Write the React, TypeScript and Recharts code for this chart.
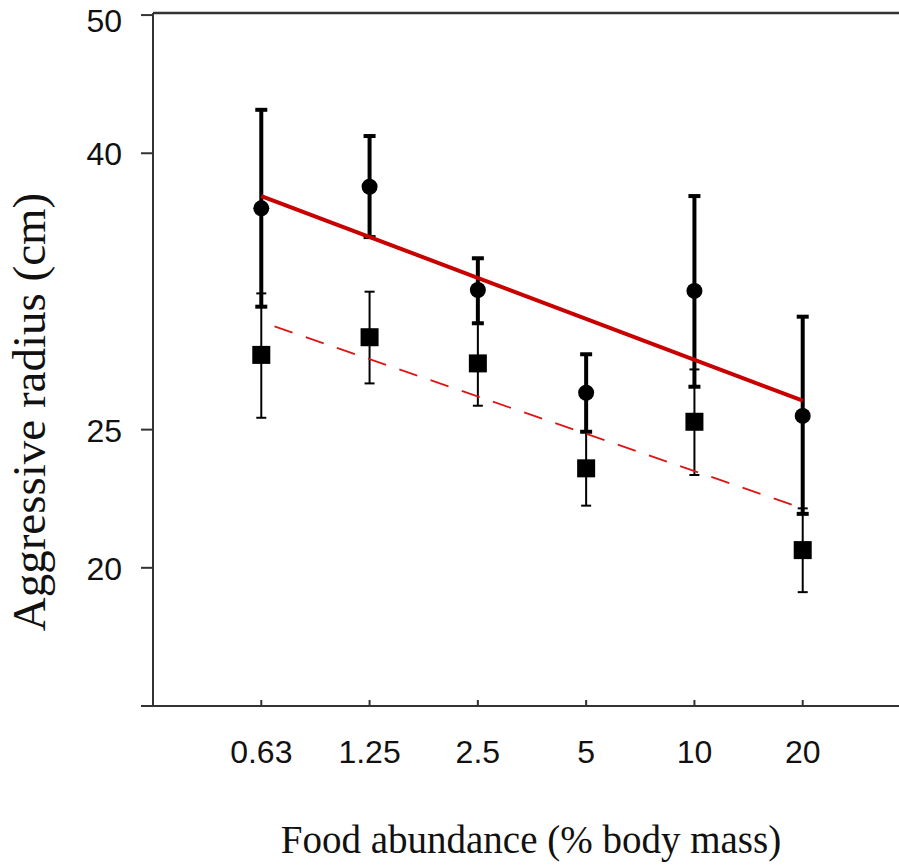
import React from "react";
import { ComposedChart, Scatter, XAxis, YAxis, ErrorBar, ReferenceLine } from "recharts";

// food abundance levels (% body mass), evenly spaced on a log axis
const foodLevels = ["0.63", "1.25", "2.5", "5", "10", "20"];

// aggressive radius (cm), circles: thick error bars
const circleMean = [36.32, 37.65, 31.7, 26.71, 31.65, 25.7];
const circleLow = [30.83, 34.62, 29.99, 25.03, 26.98, 21.83];
const circleHigh = [42.8, 40.97, 33.42, 28.48, 37.07, 30.32];

// squares: thin error bars
const squareMean = [28.45, 29.3, 28.05, 23.55, 25.45, 20.55];
const squareLow = [25.62, 27.13, 26.14, 22.13, 23.29, 19.16];
const squareHigh = [31.52, 31.61, 29.99, 25.03, 27.77, 22.03];

// regression lines, value at first and last food level
const solidFit = [37.07, 26.36];
const dashedFit = [30.06, 22.03];

// y axis is log10(cm)
const yTickPositions = [1.2, 1.3, 1.4, 1.6, 1.7];
const yTickLabels = ["", "20", "25", "40", "50"];
const yTop = 1.7015;

const lg = (v: number) => Math.log10(v);

const toPoints = (mean: number[], low: number[], high: number[]) =>
  mean.map((m, i) => ({
    idx: i,
    y: lg(m),
    err: [lg(m) - lg(low[i]), lg(high[i]) - lg(m)],
  }));

const circleData = toPoints(circleMean, circleLow, circleHigh);
const squareData = toPoints(squareMean, squareLow, squareHigh);
const lastIdx = foodLevels.length - 1;
const solidData = [
  { idx: 0, y: lg(solidFit[0]) },
  { idx: lastIdx, y: lg(solidFit[1]) },
];
const dashedData = [
  { idx: 0, y: lg(dashedFit[0]) },
  { idx: lastIdx, y: lg(dashedFit[1]) },
];

const sans = "'Liberation Sans', Arial, sans-serif";
const serif = "'Liberation Serif', 'Times New Roman', serif";

const CircleDot = (p: any) => <circle cx={p.cx} cy={p.cy} r={8} fill="#000" />;
const SquareDot = (p: any) => (
  <rect x={p.cx - 9} y={p.cy - 9} width={18} height={18} fill="#000" />
);
const NoDot = () => <g />;

const YTick = ({ x, y, payload }: any) => {
  const i = yTickPositions.indexOf(payload.value);
  return (
    <text
      x={x}
      y={y}
      dy={payload.value > 1.69 ? 17 : 12}
      textAnchor="end"
      fontSize={32}
      fontFamily={sans}
      fill="#111"
    >
      {yTickLabels[i]}
    </text>
  );
};

export default function App() {
  return (
    <div
      style={{
        position: "absolute",
        left: 0,
        top: 0,
        width: 899,
        height: 866,
        overflow: "hidden",
        background: "#fff",
      }}
    >
      <ComposedChart
        width={930}
        height={866}
        margin={{ top: 13, right: 19, bottom: 100, left: 93 }}
      >
        <XAxis
          dataKey="idx"
          type="number"
          domain={[-1, 6]}
          ticks={foodLevels.map((_, i) => i)}
          tickFormatter={(v: number) => foodLevels[v]}
          height={60}
          tickSize={-6}
          tickMargin={40}
          axisLine={{ stroke: "#333", strokeWidth: 2 }}
          tickLine={{ stroke: "#333", strokeWidth: 2 }}
          tick={{ fontSize: 32, fontFamily: sans, fill: "#111" }}
          allowDataOverflow
        />
        <YAxis
          dataKey="y"
          type="number"
          domain={[1.2, yTop]}
          ticks={yTickPositions}
          width={60}
          tickSize={12}
          tickMargin={19}
          axisLine={{ stroke: "#333", strokeWidth: 2 }}
          tickLine={{ stroke: "#333", strokeWidth: 2 }}
          tick={<YTick />}
          allowDataOverflow
        />
        <ReferenceLine y={yTop} stroke="#333" strokeWidth={2.5} ifOverflow="visible" />
        <Scatter data={circleData} shape={CircleDot} isAnimationActive={false}>
          <ErrorBar dataKey="err" direction="y" width={6} strokeWidth={4} stroke="#000" />
        </Scatter>
        <Scatter data={squareData} shape={SquareDot} isAnimationActive={false}>
          <ErrorBar dataKey="err" direction="y" width={5} strokeWidth={2} stroke="#000" />
        </Scatter>
        <Scatter
          data={solidData}
          shape={NoDot}
          line={{ stroke: "#c80000", strokeWidth: 4 }}
          isAnimationActive={false}
        />
        <Scatter
          data={dashedData}
          shape={NoDot}
          line={{
            stroke: "#dd1515",
            strokeWidth: 1.7,
            strokeDasharray: "19 14",
            strokeDashoffset: 19,
          }}
          isAnimationActive={false}
        />
      </ComposedChart>
      <svg
        width={899}
        height={866}
        style={{ position: "absolute", left: 0, top: 0, pointerEvents: "none" }}
      >
        <text
          x={45}
          y={412}
          transform="rotate(-90, 45, 412)"
          textAnchor="middle"
          fontSize={47}
          fontFamily={serif}
          fill="#111"
        >
          Aggressive radius (cm)
        </text>
        <text
          x={531}
          y={853}
          textAnchor="middle"
          fontSize={39}
          fontFamily={serif}
          fill="#111"
        >
          Food abundance (% body mass)
        </text>
      </svg>
    </div>
  );
}
